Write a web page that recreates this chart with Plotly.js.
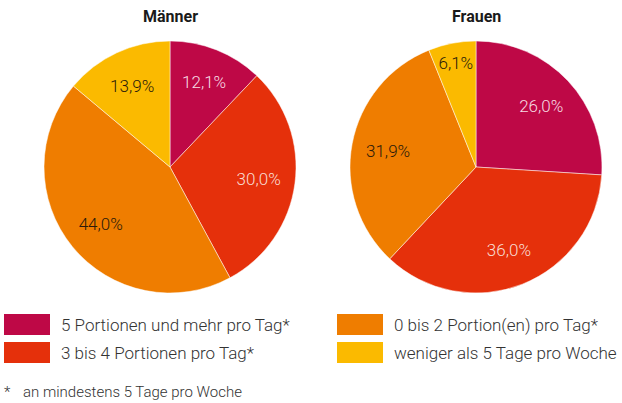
<!DOCTYPE html>
<html>
<head>
<meta charset="utf-8">
<script src="https://cdn.plot.ly/plotly-3.0.1.min.js"></script>
<style>html,body{margin:0;padding:0;background:#fff;}#chart{width:622px;height:403px;}</style>
</head>
<body>
<div id="chart"></div>
<script>
const categories = ["5 Portionen und mehr pro Tag*", "3 bis 4 Portionen pro Tag*", "0 bis 2 Portion(en) pro Tag*", "weniger als 5 Tage pro Woche"];
const maennerValues = [12.1, 30.0, 44.0, 13.9];
const frauenValues = [26.0, 36.0, 31.9, 6.1];
const groupTitles = ["Männer", "Frauen"];
const footnote = "an mindestens 5 Tage pro Woche";

const colors = ["#BE0846", "#E5300B", "#EF7D00", "#FBBA00"];
const textColors = ["#F6DCE3", "#F9DDD3", "#2a1a0a", "#2a1a0a"];

const W = 622, H = 403;
const px = x => x / W;
const py = y => 1 - y / H;

function pieTrace(values, name, x0, x1) {
  return {
    type: "pie",
    name: name,
    labels: categories,
    values: values,
    sort: false,
    direction: "clockwise",
    rotation: 0,
    domain: {x: [px(x0), px(x1)], y: [py(293), py(41)]},
    marker: {colors: colors, line: {color: "#ffffff", width: 0.5}},
    textinfo: "none",
    hoverinfo: "label+value",
    showlegend: false
  };
}
// transparent ring overlay used only to place the value labels further out
function labelTrace(values, name, x0, x1) {
  return {
    type: "pie",
    name: name,
    labels: categories,
    values: values,
    sort: false,
    direction: "clockwise",
    rotation: 0,
    hole: 0.42,
    domain: {x: [px(x0), px(x1)], y: [py(293), py(41)]},
    marker: {colors: ["rgba(0,0,0,0)", "rgba(0,0,0,0)", "rgba(0,0,0,0)", "rgba(0,0,0,0)"], line: {width: 0}},
    texttemplate: "%{value:.1f}%",
    textposition: "inside",
    insidetextorientation: "horizontal",
    insidetextfont: {family: "Roboto", size: 17, weight: 300, color: textColors},
    hoverinfo: "skip",
    showlegend: false
  };
}

const data = [
  pieTrace(maennerValues, groupTitles[0], 44, 296),
  pieTrace(frauenValues, groupTitles[1], 350, 602),
  labelTrace(maennerValues, groupTitles[0], 44, 296),
  labelTrace(frauenValues, groupTitles[1], 350, 602)
];

const shapes = [];
const annotations = [];
const titleX = [171, 476];
groupTitles.forEach((t, i) => {
  annotations.push({
    text: "<b>" + t + "</b>", x: px(titleX[i]), y: py(16), xref: "paper", yref: "paper",
    showarrow: false, xanchor: "center", yanchor: "middle",
    font: {family: "Roboto", size: 16, color: "#1a1a1a"}
  });
});

const colX = [4, 337];
const rowY = [[314, 335], [342, 363]];
categories.forEach((c, i) => {
  const col = Math.floor(i / 2), row = i % 2;
  shapes.push({
    type: "rect", xref: "paper", yref: "paper",
    x0: px(colX[col]), x1: px(colX[col] + 46), y0: py(rowY[row][1]), y1: py(rowY[row][0]),
    fillcolor: colors[i], line: {width: 0}
  });
  annotations.push({
    text: c, x: px(colX[col] + 55), y: py((rowY[row][0] + rowY[row][1]) / 2), xref: "paper", yref: "paper",
    showarrow: false, xanchor: "left", yanchor: "middle",
    font: {family: "Roboto", size: 17, weight: 300, color: "#333333"}
  });
});
annotations.push({
  text: "*", x: px(2), y: py(392), xref: "paper", yref: "paper", showarrow: false,
  xanchor: "left", yanchor: "middle", font: {family: "Roboto", size: 15, weight: 300, color: "#333333"}
});
annotations.push({
  text: footnote, x: px(21), y: py(392), xref: "paper", yref: "paper", showarrow: false,
  xanchor: "left", yanchor: "middle", font: {family: "Roboto", size: 15, weight: 300, color: "#333333"}
});

const layout = {
  width: W, height: H,
  margin: {l: 0, r: 0, t: 0, b: 0},
  paper_bgcolor: "#ffffff",
  separators: ",.",
  showlegend: false,
  shapes: shapes,
  annotations: annotations,
  font: {family: "Roboto"}
};

Plotly.newPlot("chart", data, layout, {displayModeBar: false, staticPlot: true});
</script>
</body>
</html>
